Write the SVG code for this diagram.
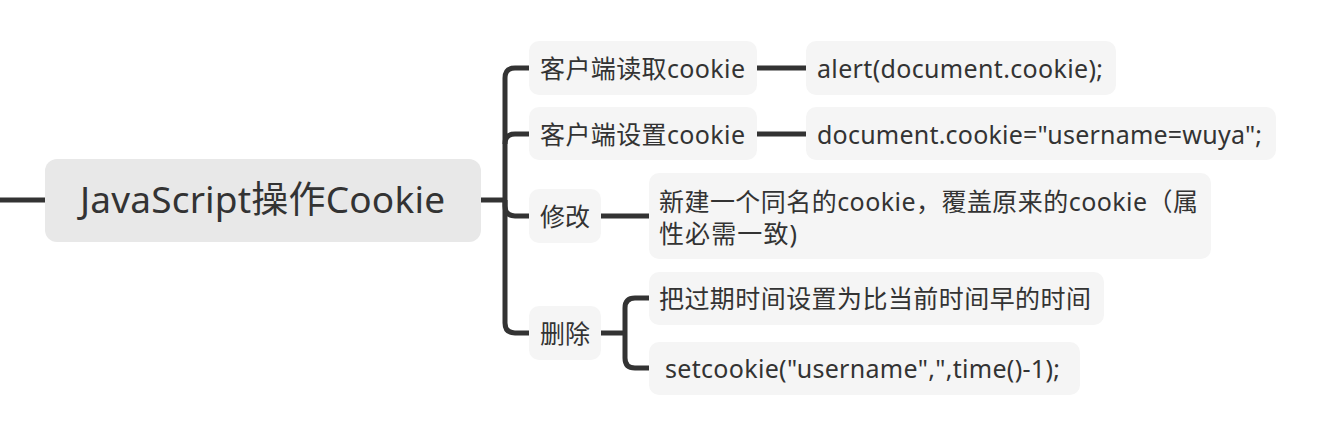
<svg xmlns="http://www.w3.org/2000/svg" width="1341" height="429" viewBox="0 0 1341 429">
<style>
  .root rect { fill: #e8e8e8; }
  .node rect { fill: #f5f5f5; }
  text { font-family: "Noto Sans", "Noto Sans CJK SC", sans-serif; fill: #333333; font-size: 25px; }
  .root text { font-size: 37px; }
  .conn path { fill: none; stroke: #333333; stroke-width: 5; stroke-linecap: butt; }
</style>
<rect width="1341" height="429" fill="#ffffff"/>
<g id="connectors" class="conn">
  <path d="M0 200 H45"/>
  <path d="M481 200 H505"/>
  <path d="M505 200 V78 Q505 68 515 68 H529"/>
  <path d="M505 144 Q505 134 515 134 H529"/>
  <path d="M505 200 V206 Q505 216 515 216 H529"/>
  <path d="M505 200 V323 Q505 333 515 333 H529"/>
  <path d="M757 68 H806"/>
  <path d="M757 134 H806"/>
  <path d="M601 216 H649"/>
  <path d="M601 333 H625"/>
  <path d="M625 333 V308 Q625 298 635 298 H649"/>
  <path d="M625 333 V358 Q625 368 635 368 H649"/>
</g>
<g id="root" class="root">
  <rect x="45" y="159" width="436" height="83" rx="12"/>
  <text x="80" y="213" textLength="365" lengthAdjust="spacing">JavaScript操作Cookie</text>
</g>
<g id="n-read" class="node">
  <rect x="529" y="41" width="228" height="54" rx="10"/>
  <text x="540" y="78" textLength="205" lengthAdjust="spacing">客户端读取cookie</text>
</g>
<g id="n-set" class="node">
  <rect x="529" y="107" width="228" height="53" rx="10"/>
  <text x="540" y="144" textLength="205" lengthAdjust="spacing">客户端设置cookie</text>
</g>
<g id="n-modify" class="node">
  <rect x="529" y="189" width="72" height="54" rx="10"/>
  <text x="540" y="226">修改</text>
</g>
<g id="n-delete" class="node">
  <rect x="529" y="306" width="72" height="54" rx="10"/>
  <text x="540" y="343">删除</text>
</g>
<g id="n-alert" class="node">
  <rect x="806" y="41" width="310" height="54" rx="10"/>
  <text x="817" y="78" textLength="286" lengthAdjust="spacing">alert(document.cookie);</text>
</g>
<g id="n-docset" class="node">
  <rect x="806" y="107" width="470" height="53" rx="10"/>
  <text x="817" y="144" textLength="445" lengthAdjust="spacing">document.cookie="username=wuya";</text>
</g>
<g id="n-overwrite" class="node">
  <rect x="649" y="173" width="562" height="86" rx="10"/>
  <text x="659" y="211" textLength="539" lengthAdjust="spacing">新建一个同名的cookie，覆盖原来的cookie（属</text>
  <text x="659" y="243" textLength="138" lengthAdjust="spacing">性必需一致)</text>
</g>
<g id="n-expire" class="node">
  <rect x="649" y="272" width="455" height="53" rx="10"/>
  <text x="659" y="308" textLength="432" lengthAdjust="spacing">把过期时间设置为比当前时间早的时间</text>
</g>
<g id="n-setcookie" class="node">
  <rect x="649" y="342" width="431" height="53" rx="10"/>
  <text x="665" y="378" textLength="395" lengthAdjust="spacing">setcookie("username",",time()-1);</text>
</g>
</svg>
